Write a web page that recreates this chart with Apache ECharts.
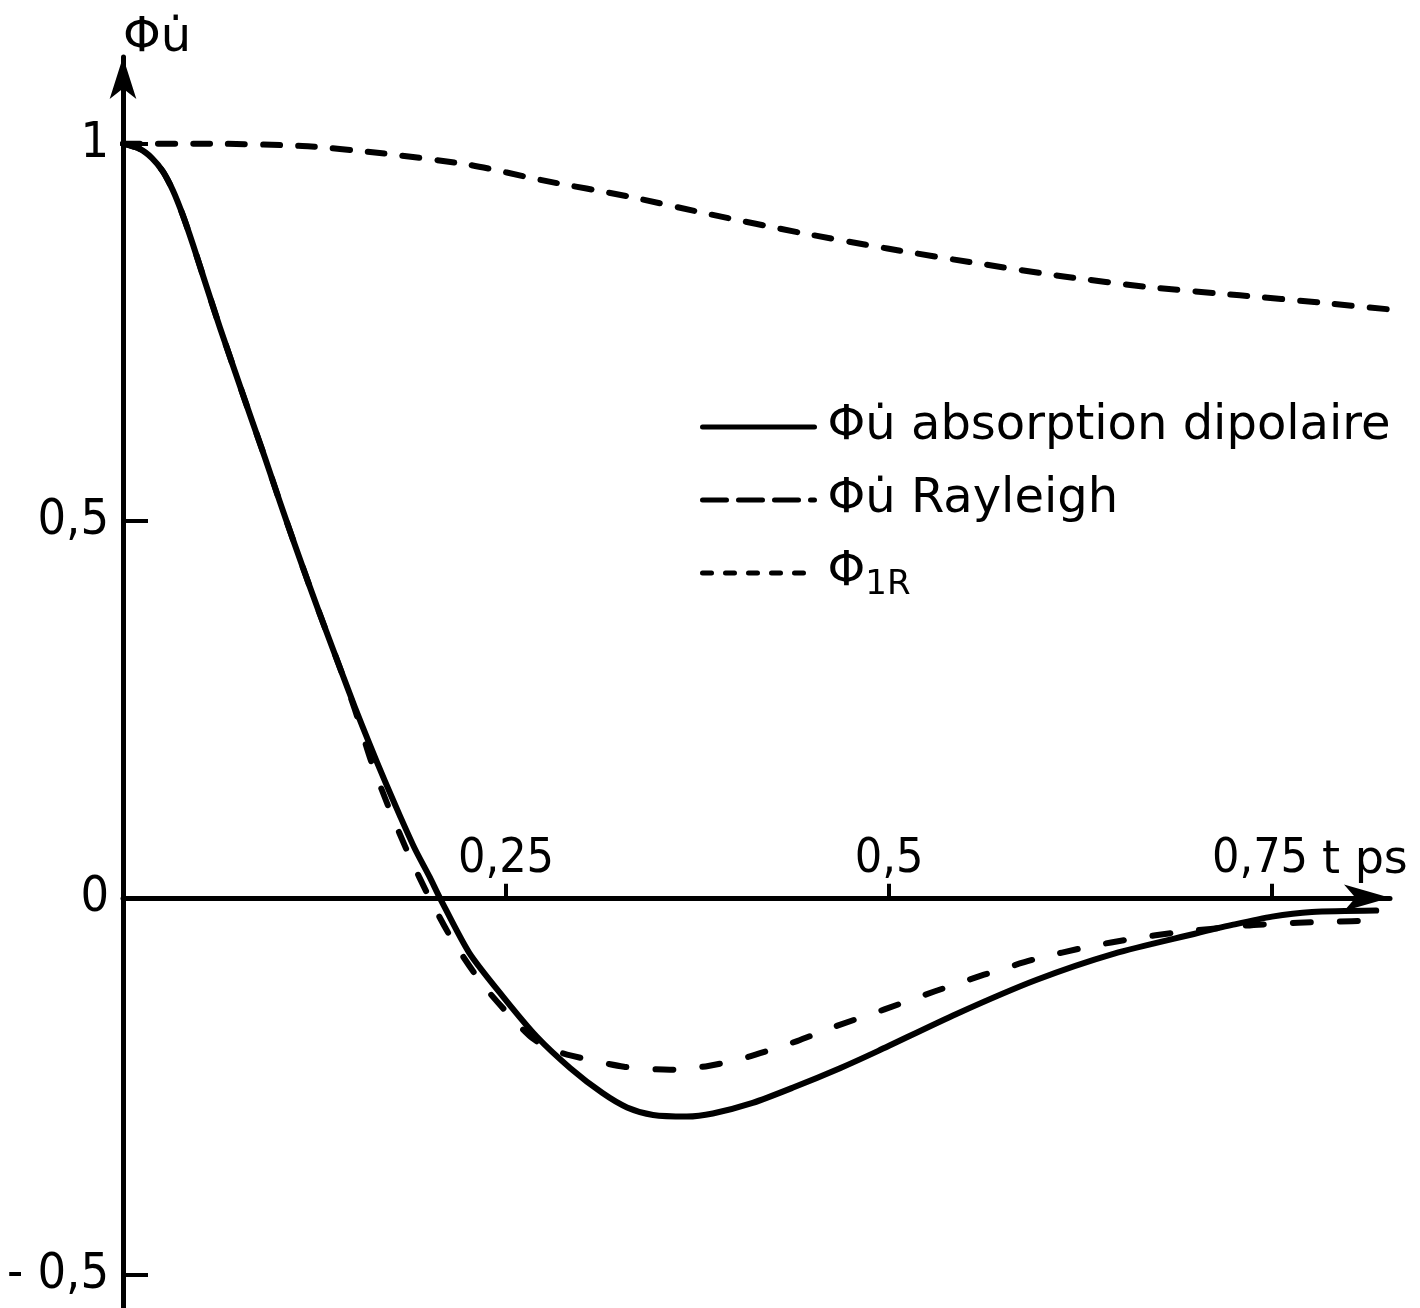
<!DOCTYPE html>
<html>
<head>
<meta charset="utf-8">
<script src="https://cdn.jsdelivr.net/npm/echarts@6/dist/echarts.min.js"></script>
<style>
  html, body { margin: 0; padding: 0; background: #fff; }
  #chart { width: 1420px; height: 1308px; }
</style>
</head>
<body>
<div id="chart"></div>
<script>
// Normalised correlation functions versus time t (ps)
const seriesNames = ['Φu̇ absorption dipolaire', 'Φu̇ Rayleigh', 'Φ1R'];

// [t (ps), value]
const dipolaire = [
  [0, 1.0], [0.0111, 0.993], [0.0189, 0.981], [0.0261, 0.963], [0.0326, 0.938],
  [0.0391, 0.905], [0.0457, 0.866], [0.0535, 0.817], [0.0633, 0.756], [0.0731, 0.698],
  [0.0828, 0.641], [0.0926, 0.584], [0.1024, 0.525], [0.1122, 0.468], [0.122, 0.412],
  [0.1318, 0.358], [0.1416, 0.305], [0.1513, 0.253], [0.1611, 0.203], [0.1709, 0.155],
  [0.1807, 0.109], [0.1905, 0.065], [0.2003, 0.027], [0.2068, 0.0], [0.226, -0.073],
  [0.248, -0.131], [0.270, -0.184], [0.292, -0.226], [0.313, -0.259], [0.329, -0.278],
  [0.346, -0.288], [0.368, -0.290], [0.385, -0.286], [0.411, -0.272], [0.437, -0.252],
  [0.468, -0.226], [0.493, -0.203], [0.544, -0.154], [0.596, -0.109], [0.647, -0.074],
  [0.699, -0.048], [0.724, -0.036], [0.750, -0.025], [0.776, -0.019], [0.818, -0.017]
];

const rayleigh = [
  [0, 1.0], [0.0111, 0.993], [0.0189, 0.981], [0.0261, 0.963], [0.0326, 0.938],
  [0.0391, 0.905], [0.0457, 0.866], [0.0535, 0.817], [0.0633, 0.756], [0.0731, 0.698],
  [0.0828, 0.641], [0.0926, 0.584], [0.1024, 0.525], [0.1122, 0.468], [0.122, 0.412],
  [0.1318, 0.358], [0.1416, 0.305], [0.1513, 0.250], [0.162, 0.181], [0.174, 0.117],
  [0.187, 0.055], [0.200, 0.0], [0.215, -0.056], [0.234, -0.113], [0.251, -0.153],
  [0.267, -0.186], [0.280, -0.201], [0.292, -0.209], [0.327, -0.224], [0.357, -0.228],
  [0.382, -0.223], [0.408, -0.211], [0.440, -0.190], [0.463, -0.172], [0.497, -0.148],
  [0.530, -0.124], [0.562, -0.102], [0.596, -0.081], [0.630, -0.065], [0.660, -0.054],
  [0.688, -0.046], [0.732, -0.037], [0.767, -0.033], [0.802, -0.031], [0.813, -0.030]
];

const phi1R = [
  [0, 1.0], [0.057, 1.0], [0.117, 0.997], [0.166, 0.988], [0.226, 0.972],
  [0.275, 0.951], [0.330, 0.930], [0.384, 0.906], [0.442, 0.882], [0.499, 0.861],
  [0.559, 0.841], [0.614, 0.824], [0.669, 0.810], [0.729, 0.799], [0.783, 0.789],
  [0.838, 0.778]
];

const xTicks = [0.25, 0.5, 0.75];
const yTicks = [-0.5, 0, 0.5, 1];

const numFont = "'Liberation Sans Narrow', 'DejaVu Sans Condensed', sans-serif";
const textFont = "'DejaVu Sans', sans-serif";
const ink = '#000';

// axis extents
const T_MAX = 0.827;
const Y_MIN = -0.544;
const Y_MAX = 1.115;

const decimalComma = v => {
  const s = String(Math.abs(v)).replace('.', ',');
  return v < 0 ? '- ' + s : s;
};

// the last t label sits a little left of its tick, leaving room for the unit
const tLabel = v => (v === 0.75 ? '{shift|' + decimalComma(v) + '}' : decimalComma(v));

const lineSeries = (name, data, type, extra) => Object.assign({
  name: name,
  type: 'line',
  data: data,
  xAxisIndex: 0,
  yAxisIndex: 0,
  symbol: 'none',
  showSymbol: false,
  smooth: 0.25,
  animation: false,
  lineStyle: { color: ink, width: 6, type: type, cap: 'round', join: 'round' }
}, extra || {});

const chart = echarts.init(document.getElementById('chart'), null, { renderer: 'canvas' });

// Grid 0 holds the curves over the whole value range; grid 1 spans only the
// positive half so that its bottom edge is the t axis at value 0.
const plotTop = 57, plotBottom = 0, plotLeft = 123, plotRight = 30;
const plotH = 1308 - plotTop - plotBottom;
const zeroFromBottom = plotBottom + plotH * (0 - Y_MIN) / (Y_MAX - Y_MIN);

chart.setOption({
  backgroundColor: '#fff',
  animation: false,
  grid: [
    { left: plotLeft, right: plotRight, top: plotTop, bottom: plotBottom, containLabel: false },
    { left: plotLeft, right: plotRight, top: plotTop, bottom: zeroFromBottom, containLabel: false }
  ],
  xAxis: [
    { type: 'value', gridIndex: 0, min: 0, max: T_MAX, show: false },
    {
      type: 'value',
      gridIndex: 1,
      min: 0,
      max: T_MAX,
      position: 'bottom',
      name: 't ps',
      nameLocation: 'end',
      nameGap: -68,
      nameTextStyle: {
        fontFamily: textFont, fontSize: 46, color: ink,
        verticalAlign: 'bottom', padding: [0, 0, 14, 0]
      },
      axisLine: {
        onZero: false,
        lineStyle: { color: ink, width: 5 },
        symbol: ['none', 'arrow'],
        symbolSize: [20, 46]
      },
      axisTick: {
        show: true, inside: true, length: 14,
        customValues: xTicks,
        lineStyle: { color: ink, width: 4 }
      },
      axisLabel: {
        inside: true, margin: 14,
        customValues: xTicks,
        formatter: tLabel,
        fontFamily: numFont, fontSize: 48, color: ink,
        rich: {
          shift: { fontFamily: numFont, fontSize: 48, color: ink, padding: [0, 24, 0, 0] }
        }
      },
      splitLine: { show: false }
    }
  ],
  yAxis: [
    {
      type: 'value',
      gridIndex: 0,
      min: Y_MIN,
      max: Y_MAX,
      name: 'Φu̇',
      nameLocation: 'end',
      nameGap: -6,
      nameTextStyle: {
        fontFamily: textFont, fontSize: 48, color: ink,
        align: 'left', verticalAlign: 'bottom'
      },
      axisLine: {
        show: true,
        onZero: false,
        lineStyle: { color: ink, width: 5 },
        symbol: ['none', 'arrow'],
        symbolSize: [20, 42]
      },
      axisTick: {
        show: true, inside: true, length: 25,
        customValues: yTicks,
        lineStyle: { color: ink, width: 4 }
      },
      axisLabel: {
        margin: 14,
        customValues: yTicks,
        formatter: decimalComma,
        fontFamily: numFont, fontSize: 50, color: ink
      },
      splitLine: { show: false }
    },
    { type: 'value', gridIndex: 1, min: 0, max: Y_MAX, show: false }
  ],
  legend: {
    orient: 'vertical',
    left: 695,
    top: 398,
    itemWidth: 112,
    itemHeight: 10,
    itemGap: 25,
    selectedMode: false,
    itemStyle: { opacity: 0 },
    lineStyle: { width: 5 },
    data: [
      { name: seriesNames[0], lineStyle: { width: 5, type: 'solid' } },
      { name: seriesNames[1], lineStyle: { width: 5, type: [24, 12] } },
      { name: seriesNames[2], lineStyle: { width: 5, type: [9, 14] } }
    ],
    formatter: name => name === seriesNames[2]
      ? '{t|Φ}{s|1R}'
      : '{t|' + name + '}',
    textStyle: {
      color: ink,
      rich: {
        t: { fontFamily: textFont, fontSize: 48, lineHeight: 58, color: ink, padding: [0, 0, 0, 8] },
        s: { fontFamily: textFont, fontSize: 34, lineHeight: 38, verticalAlign: 'bottom', color: ink }
      }
    }
  },
  series: [
    lineSeries(seriesNames[0], dipolaire, 'solid', { z: 3 }),
    lineSeries(seriesNames[1], rayleigh, [18, 29], { z: 2 }),
    lineSeries(seriesNames[2], phi1R, [17, 18], { z: 2, clip: false })
  ]
});
</script>
</body>
</html>
